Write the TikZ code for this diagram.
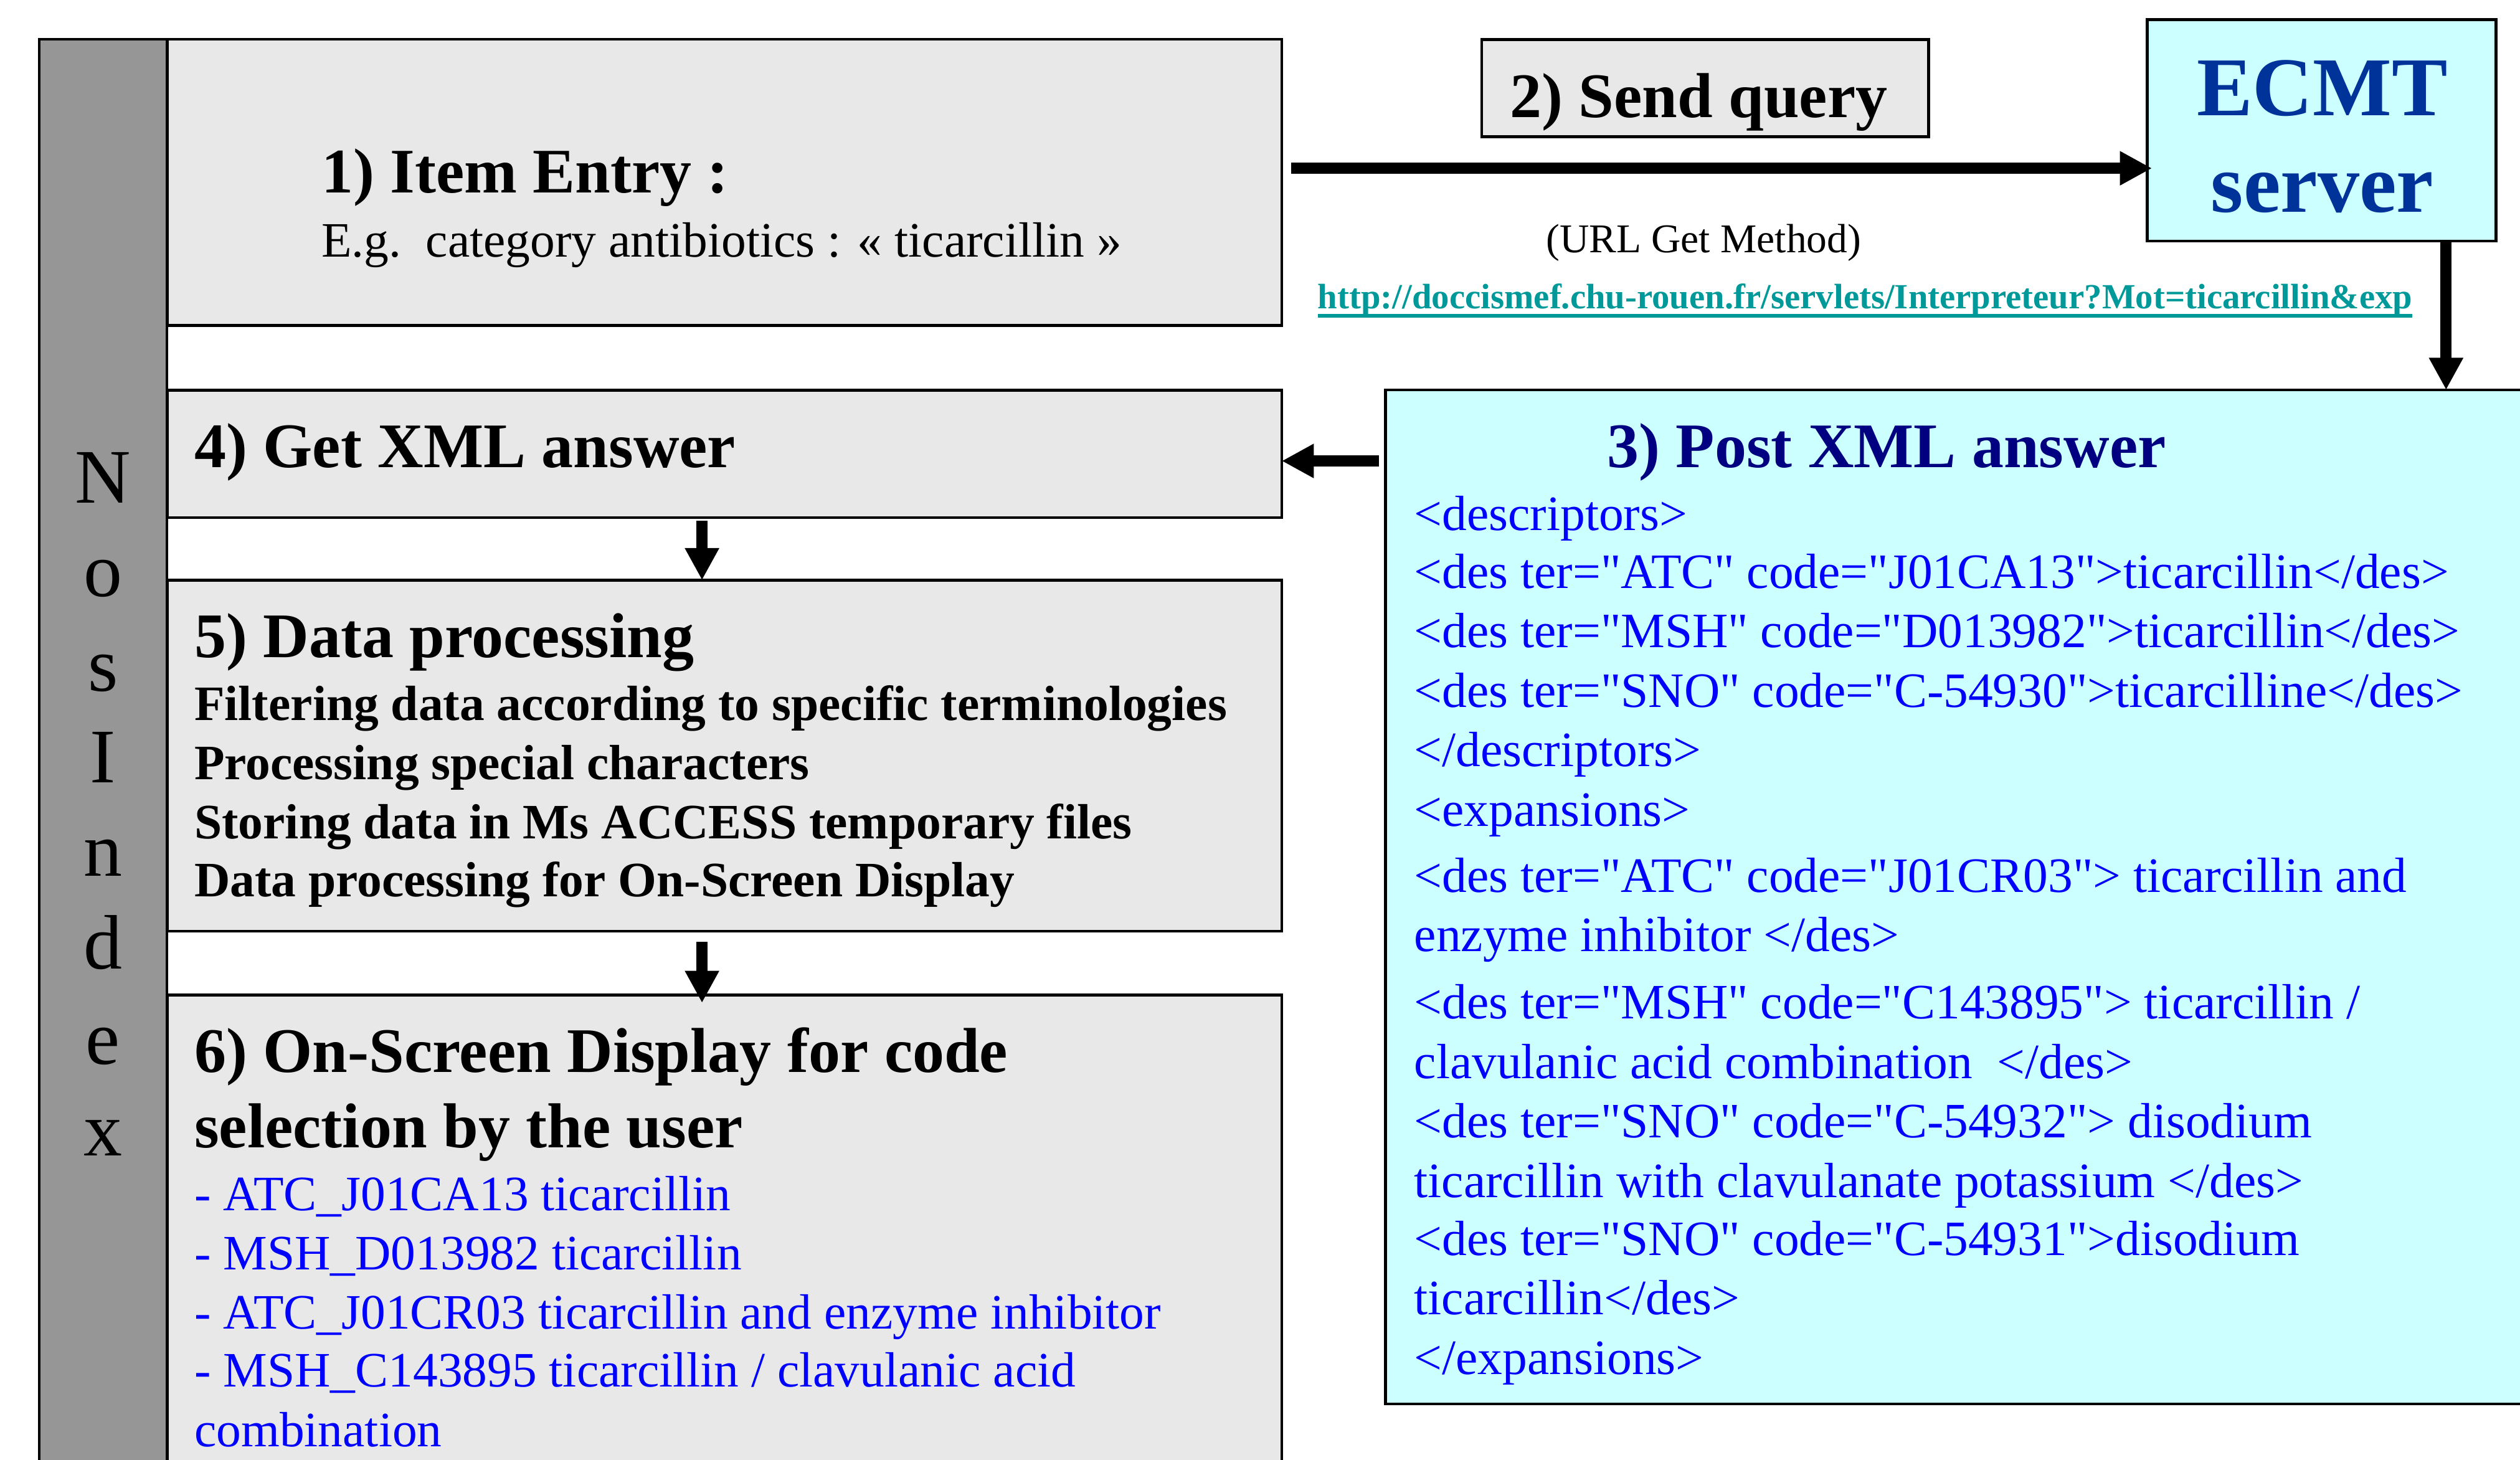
\documentclass[tikz,border=0pt]{standalone}
\usepackage{fontspec}
\setmainfont{Liberation Serif}[Ligatures=TeXOff]
\usetikzlibrary{arrows.meta}

\definecolor{panelgray}{HTML}{E8E8E8}
\definecolor{bargray}{HTML}{969696}
\definecolor{servercyan}{HTML}{CCFFFF}
\definecolor{xmlblue}{HTML}{0000FF}
\definecolor{headnavy}{HTML}{000080}
\definecolor{ecmtblue}{HTML}{003399}
\definecolor{urlteal}{HTML}{009999}

\newcommand\sizeHead{\fontsize{19.75}{24}\selectfont\bfseries}
\newcommand\sizeBody{\fontsize{15.4}{18.5}\selectfont}
\newcommand\sizeNote{\fontsize{12.7}{15}\selectfont}
\newcommand\sizeLink{\fontsize{11}{13}\selectfont\bfseries}
\newcommand\sizeServer{\fontsize{26}{30}\selectfont\bfseries}
\newcommand\sizeBar{\fontsize{24}{28}\selectfont}

\tikzset{
  panel/.style n args={2}{draw=black, line width=0.9pt, fill=panelgray,
    inner sep=0pt, outer sep=0pt, anchor=north west,
    minimum width=#1, minimum height=#2},
  txt/.style={anchor=base west, inner sep=0pt, outer sep=0pt},
  ctxt/.style={anchor=base, inner sep=0pt, outer sep=0pt},
  blockarrow/.style={line width=3.5pt, -{Triangle[length=10pt, width=10pt]}},
}

\begin{document}
\begin{tikzpicture}[x=0.5pt, y=-0.5pt]
\useasboundingbox (0,0) rectangle (1568,908.4);
\clip (0,0) rectangle (1568,908.4);

% left side bar
\node[panel={39.7pt}{452.8pt}, fill=bargray] (bar) at (24.4,24.4) {};
\foreach \ch/\yy [count=\i] in {N/313, o/371, s/430, I/487, n/545, d/603, e/662, x/719}
  \node[ctxt, font=\sizeBar] (bar\i) at (64,\yy) {\ch};

% processing steps on the left
\node[panel={346.75pt}{89.1pt}] (b1) at (104,24.4) {};
\node[panel={346.75pt}{39.65pt}] (b4) at (104,242.7) {};
\node[panel={346.75pt}{109.2pt}] (b5) at (104,361) {};
\node[panel={346.75pt}{160.5pt}] (b6) at (104,619) {};

% query box and server
\node[panel={139pt}{30.25pt}] (b2) at (922,24.5) {};
\node[panel={108.5pt}{68.85pt}, fill=servercyan] (ecmt) at (1336,12.3) {};

% XML answer panel
\node[panel={379pt}{315.45pt}, fill=servercyan] (b3) at (862,242.6) {};

% step 1
\node[txt, font=\sizeHead] (t1) at (200,120) {1) Item Entry :};
\node[txt, font=\sizeBody] (t1b) at (200,160) {E.g.\ \ category antibiotics : « ticarcillin »};

% step 2
\node[ctxt, font=\sizeHead] (t2) at (1057,73) {2) Send query};
\node[ctxt, font=\sizeServer, text=ecmtblue] (ecmt1) at (1445,72) {ECMT};
\node[ctxt, font=\sizeServer, text=ecmtblue] (ecmt2) at (1445,132) {server};
\node[ctxt, font=\sizeNote] (get) at (1060,157) {(URL Get Method)};
\node[txt, font=\sizeLink, text=urlteal] (url) at (820,192)
  {http://doccismef.chu-rouen.fr/servlets/Interpreteur?Mot=ticarcillin\&exp};
\draw[urlteal, line width=1.1pt] ([yshift=-2.3pt]url.base west) -- ([yshift=-2.3pt]url.base east);

% step 4
\node[txt, font=\sizeHead] (t4) at (121,291) {4) Get XML answer};

% step 5
\node[txt, font=\sizeHead] (t5) at (121,409) {5) Data processing};
\node[txt, font=\sizeBody\bfseries] (t5a) at (121,448) {Filtering data according to specific terminologies};
\node[txt, font=\sizeBody\bfseries] (t5b) at (121,485) {Processing special characters};
\node[txt, font=\sizeBody\bfseries] (t5c) at (121,522) {Storing data in Ms ACCESS temporary files};
\node[txt, font=\sizeBody\bfseries] (t5d) at (121,558) {Data processing for On-Screen Display};

% step 6
\node[txt, font=\sizeHead] (t6) at (121,667) {6) On-Screen Display for code};
\node[txt, font=\sizeHead] (t6b) at (121,714) {selection by the user};
\begin{scope}[every node/.append style={txt, font=\sizeBody, text=xmlblue}]
  \node (c1) at (121,753) {- ATC\_J01CA13 ticarcillin};
  \node (c2) at (121,790) {- MSH\_D013982 ticarcillin};
  \node (c3) at (121,827) {- ATC\_J01CR03 ticarcillin and enzyme inhibitor};
  \node (c4) at (121,863) {- MSH\_C143895 ticarcillin / clavulanic acid};
  \node (c5) at (121,900) {combination};
\end{scope}

% step 3
\node[txt, font=\sizeHead, text=headnavy] (t3) at (1000,291) {3) Post XML answer};
\begin{scope}[every node/.append style={txt, font=\sizeBody, text=xmlblue}]
  \node (x1)  at (880,330) {<descriptors>};
  \node (x2)  at (880,366) {<des ter="ATC" code="J01CA13">ticarcillin</des>};
  \node (x3)  at (880,403) {<des ter="MSH" code="D013982">ticarcillin</des>};
  \node (x4)  at (880,440) {<des ter="SNO" code="C-54930">ticarcilline</des>};
  \node (x5)  at (880,477) {</descriptors>};
  \node (x6)  at (880,514) {<expansions>};
  \node (x7)  at (880,555) {<des ter="ATC" code="J01CR03"> ticarcillin and};
  \node (x8)  at (880,592) {enzyme inhibitor </des>};
  \node (x9)  at (880,634) {<des ter="MSH" code="C143895"> ticarcillin /};
  \node (x10) at (880,671) {clavulanic acid combination\ \ </des>};
  \node (x11) at (880,708) {<des ter="SNO" code="C-54932"> disodium};
  \node (x12) at (880,745) {ticarcillin with clavulanate potassium </des>};
  \node (x13) at (880,781) {<des ter="SNO" code="C-54931">disodium};
  \node (x14) at (880,818) {ticarcillin</des>};
  \node (x15) at (880,855) {</expansions>};
\end{scope}

% flow arrows
\coordinate (qrow) at (0,104.7);
\coordinate (retrow) at (0,286.8);
\coordinate (srvcol) at (1522,0);
\coordinate (dcol) at (436.8,0);
\draw[blockarrow, shorten <=3pt, shorten >=-1.5pt] (b1.east |- qrow) -- (ecmt.west |- qrow);
\draw[blockarrow] (ecmt.south -| srvcol) -- (b3.north -| srvcol);
\draw[blockarrow, shorten <=2pt] (b3.west |- retrow) -- (b4.east |- retrow);
\draw[blockarrow, shorten <=1pt] (b4.south -| dcol) -- (b5.north -| dcol);
\draw[blockarrow, shorten <=3.3pt, shorten >=-2.5pt] (b5.south -| dcol) -- (b6.north -| dcol);
\end{tikzpicture}
\end{document}
